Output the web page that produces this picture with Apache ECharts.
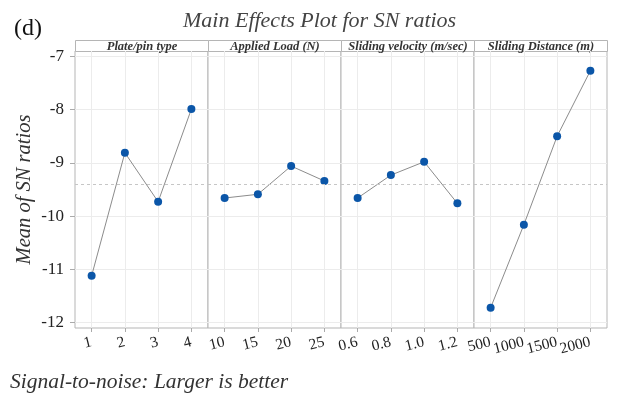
<!DOCTYPE html>
<html>
<head>
<meta charset="utf-8">
<script src="https://cdn.jsdelivr.net/npm/echarts@6/dist/echarts.min.js"></script>
<style>
html, body { margin: 0; padding: 0; background: #fff; }
#chart { width: 625px; height: 393px; }
</style>
</head>
<body>
<div id="chart"></div>
<script>
// Factor names and their level labels
const factors = ['Plate/pin type', 'Applied Load (N)', 'Sliding velocity (m/sec)', 'Sliding Distance (m)'];
const plateLevels = ['1', '2', '3', '4'];
const loadLevels = ['10', '15', '20', '25'];
const velocityLevels = ['0.6', '0.8', '1.0', '1.2'];
const distanceLevels = ['500', '1000', '1500', '2000'];

// Mean S/N ratio at each level
const plateMeans = [-11.12, -8.81, -9.73, -7.99];
const loadMeans = [-9.66, -9.59, -9.06, -9.34];
const velocityMeans = [-9.66, -9.23, -8.98, -9.76];
const distanceMeans = [-11.72, -10.16, -8.50, -7.27];

// Grand mean reference line and y tick labels
const overallMean = -9.41;
const yTicks = [-12, -11, -10, -9, -8, -7];

const levels = [plateLevels, loadLevels, velocityLevels, distanceLevels];
const means = [plateMeans, loadMeans, velocityMeans, distanceMeans];

// Panel layout
const plotLeft = 75, panelW = 133, plotTop = 51, plotH = 277, stripH = 11;
const serif = '"Liberation Serif", "DejaVu Serif", serif';
const frameColor = '#b5b5b5';

const grids = [], xAxes = [], yAxes = [], series = [], graphics = [];

factors.forEach((name, i) => {
  const lv = levels[i];
  const pos = lv.map((_, k) => k + 1);
  grids.push({
    left: plotLeft + i * panelW, top: plotTop, width: panelW, height: plotH,
    show: true, borderColor: frameColor, borderWidth: 1, backgroundColor: '#fff'
  });
  xAxes.push({
    type: 'value', gridIndex: i, min: 0.5, max: lv.length + 0.5,
    axisLine: { show: false },
    axisTick: { show: true, customValues: pos, length: 4, lineStyle: { color: '#aaa' } },
    axisLabel: {
      customValues: pos,
      formatter: v => lv[Math.round(v) - 1],
      rotate: 14, margin: 14,
      hideOverlap: false, showMinLabel: true, showMaxLabel: true,
      fontFamily: serif, fontSize: 15.5, color: '#222'
    },
    splitLine: { show: true, lineStyle: { color: '#ececec', width: 1 } }
  });
  yAxes.push({
    type: 'value', gridIndex: i, min: -12.1, max: -6.9,
    axisLine: { show: false },
    axisTick: { show: i === 0, customValues: yTicks, length: 5, lineStyle: { color: '#aaa' } },
    axisLabel: {
      show: i === 0, customValues: yTicks, margin: 11,
      fontFamily: serif, fontSize: 17, color: '#222'
    },
    splitLine: { show: true, lineStyle: { color: '#ececec', width: 1 } },
    name: i === 0 ? 'Mean of SN ratios' : '',
    nameLocation: 'middle', nameGap: 40,
    nameTextStyle: { fontFamily: serif, fontStyle: 'italic', fontSize: 20.5, color: '#333' }
  });
  series.push({
    type: 'line', xAxisIndex: i, yAxisIndex: i,
    data: means[i].map((v, k) => [k + 1, v]),
    symbol: 'circle', symbolSize: 8,
    itemStyle: { color: '#0b56a8' },
    lineStyle: { color: '#8c8c8c', width: 1 },
    z: 3,
    markLine: {
      silent: true, symbol: 'none', label: { show: false },
      lineStyle: { type: [3, 3], color: '#c6c6c6', width: 1 },
      data: [{ yAxis: overallMean }]
    }
  });
  // Strip header box with factor name
  graphics.push({
    type: 'group', left: plotLeft + i * panelW, top: plotTop - stripH,
    children: [
      { type: 'rect', shape: { x: 0, y: 0, width: panelW, height: stripH },
        style: { fill: '#fff', stroke: frameColor, lineWidth: 1 } },
      { type: 'text', x: panelW / 2, y: stripH / 2 + 0.5,
        style: { text: name, align: 'center', verticalAlign: 'middle',
          font: 'italic bold 12.5px ' + serif, fill: '#333' } }
    ]
  });
});

const chart = echarts.init(document.getElementById('chart'), null, { renderer: 'canvas' });
chart.setOption({
  animation: false,
  backgroundColor: '#fff',
  title: [
    { text: 'Main Effects Plot for SN ratios', left: 178, top: 5,
      textStyle: { fontFamily: serif, fontStyle: 'italic', fontWeight: 'normal', fontSize: 22, color: '#444' } },
    { text: '(d)', left: 9, top: 12,
      textStyle: { fontFamily: serif, fontWeight: 'normal', fontSize: 24, color: '#111' } },
    { text: 'Signal-to-noise: Larger is better', left: 5, top: 366,
      textStyle: { fontFamily: serif, fontStyle: 'italic', fontWeight: 'normal', fontSize: 21.5, color: '#333' } }
  ],
  grid: grids,
  xAxis: xAxes,
  yAxis: yAxes,
  series: series,
  graphic: graphics
});
</script>
</body>
</html>
